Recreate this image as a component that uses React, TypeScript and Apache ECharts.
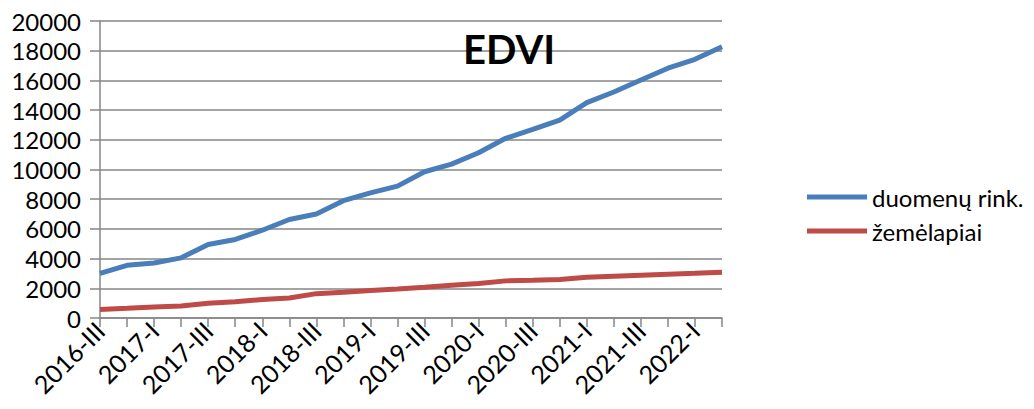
import React, { useEffect, useRef } from "react";
import * as echarts from "echarts";

const categories = [
  "2016-III", "2016-IV", "2017-I", "2017-II", "2017-III", "2017-IV",
  "2018-I", "2018-II", "2018-III", "2018-IV", "2019-I", "2019-II",
  "2019-III", "2019-IV", "2020-I", "2020-II", "2020-III", "2020-IV",
  "2021-I", "2021-II", "2021-III", "2021-IV", "2022-I", "2022-II",
];

const duomenuRink = [
  3000, 3550, 3700, 4050, 4950, 5290, 5910, 6630, 7000, 7900, 8430, 8880,
  9850, 10360, 11130, 12100, 12700, 13330, 14500, 15220, 16030, 16820, 17420, 18270,
];

const zemelapiai = [
  570, 650, 740, 810, 990, 1100, 1240, 1350, 1640, 1730, 1850, 1950,
  2070, 2200, 2320, 2500, 2540, 2590, 2740, 2810, 2880, 2950, 3010, 3080,
];

const seriesNames = ["duomenų rink.", "žemėlapiai"];
const yMin = 0;
const yMax = 20000;
const yInterval = 2000;

export default function App() {
  const ref = useRef<HTMLDivElement>(null);
  useEffect(() => {
    if (!ref.current) return;
    const chart = echarts.init(ref.current, null, { renderer: "svg" });
    const font = "Lato, Carlito, 'Noto Sans', sans-serif";
    chart.setOption({
      animation: false,
      backgroundColor: "#ffffff",
      textStyle: { fontFamily: font },
      title: {
        text: "EDVI",
        left: 458,
        top: 24,
        textStyle: { fontSize: 40, fontWeight: "bold", color: "#000", fontFamily: font },
      },
      legend: {
        orient: "vertical",
        left: 802,
        top: 180,
        itemWidth: 60,
        itemHeight: 5,
        itemGap: 10,
        icon: "rect",
        textStyle: { fontSize: 24, color: "#000", fontFamily: font, padding: [0, 0, 0, 0] },
        data: seriesNames,
      },
      grid: { left: 100, right: 312, top: 21, bottom: 91, containLabel: false },
      xAxis: {
        type: "category",
        data: categories,
        boundaryGap: false,
        axisLine: { lineStyle: { color: "#868686", width: 1.5 } },
        axisTick: { show: true, interval: 0, length: 9, lineStyle: { color: "#868686", width: 1.5 } },
        axisLabel: {
          interval: 1,
          rotate: 45,
          fontSize: 25,
          color: "#000",
          fontFamily: font,
          margin: 8,
        },
        splitLine: { show: false },
      },
      yAxis: {
        type: "value",
        min: yMin,
        max: yMax,
        interval: yInterval,
        axisLine: { show: true, lineStyle: { color: "#868686", width: 1.5 } },
        axisTick: { show: true, inside: false, length: 10, lineStyle: { color: "#868686", width: 1.5 } },
        axisLabel: {
          fontSize: 24,
          color: "#000",
          fontFamily: font,
          margin: 19,
          formatter: (v: number) => String(v),
        },
        splitLine: { show: true, lineStyle: { color: "#868686", width: 1.5 } },
      },
      series: [
        {
          name: seriesNames[0],
          type: "line",
          data: duomenuRink,
          symbol: "none",
          lineStyle: { color: "#4a7ebb", width: 5 },
          itemStyle: { color: "#4a7ebb" },
        },
        {
          name: seriesNames[1],
          type: "line",
          data: zemelapiai,
          symbol: "none",
          lineStyle: { color: "#be4b48", width: 5 },
          itemStyle: { color: "#be4b48" },
        },
      ],
    });
    return () => chart.dispose();
  }, []);
  return <div ref={ref} style={{ width: 1034, height: 409, position: "absolute", left: 0, top: 0 }} />;
}
